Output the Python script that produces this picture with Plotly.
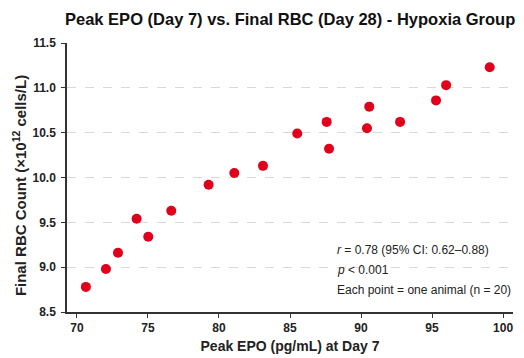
import plotly.graph_objects as go

peak_epo = [70.63, 72.04, 72.89, 74.20, 75.02, 76.64, 79.27, 81.08, 83.10, 85.51,
            87.58, 87.75, 90.42, 90.58, 92.75, 95.28, 95.99, 99.06]
final_rbc = [8.78, 8.98, 9.16, 9.54, 9.34, 9.63, 9.92, 10.05, 10.13, 10.49,
             10.62, 10.32, 10.55, 10.79, 10.62, 10.86, 11.03, 11.23]

x_ticks = [70, 75, 80, 85, 90, 95, 100]
y_ticks = [8.5, 9.0, 9.5, 10.0, 10.5, 11.0, 11.5]
y_tick_labels = ["8.5", "9.0", "9.5", "10.0", "10.5", "11.0", "11.5"]

stats_lines = [
    "<i>r</i> = 0.78 (95% CI: 0.62–0.88)",
    "<i>p</i> < 0.001",
    "Each point = one animal (n = 20)",
]

FONT = "Liberation Sans, Arial, sans-serif"
# page body has an 8px default margin; size the figure to fit the window
W, H = 516, 350

fig = go.Figure()
fig.add_trace(go.Scatter(
    x=peak_epo, y=final_rbc, mode="markers",
    marker=dict(size=10, color="#e0001b", line=dict(width=0)),
    showlegend=False, hoverinfo="x+y",
))

fig.update_layout(
    width=W, height=H,
    margin=dict(l=59, r=11, t=35, b=46, autoexpand=False),
    paper_bgcolor="white", plot_bgcolor="white",
    font=dict(family=FONT, color="#222"),
    title=dict(text="<b>Peak EPO (Day 7) vs. Final RBC (Day 28) - Hypoxia Group</b>",
               xref="container", x=57/W, xanchor="left", y=1 - 11/H, yanchor="middle",
               font=dict(size=16.5, color="#111", family=FONT)),
)

fig.update_xaxes(
    range=[69.3, 100.7], tickvals=x_ticks,
    ticktext=[f"<b>{v}</b>" for v in x_ticks],
    tickfont=dict(size=12, color="#222"),
    showgrid=False, zeroline=False, automargin=False,
    showline=True, linecolor="#333", linewidth=1.5,
    ticks="outside", ticklen=4, tickcolor="#333", tickwidth=1.2,
    title=dict(text="<b>Peak EPO (pg/mL) at Day 7</b>", font=dict(size=14, color="#222"), standoff=7),
)
fig.update_yaxes(
    range=[8.5, 11.5], tickvals=y_ticks,
    ticktext=[f"<b>{t}</b>" for t in y_tick_labels],
    tickfont=dict(size=12, color="#222"),
    showgrid=True, gridcolor="#d9d9d9", griddash="dash", gridwidth=1,
    zeroline=False, automargin=False,
    showline=True, linecolor="#333", linewidth=1.5,
    ticks="outside", ticklen=4, tickcolor="#333", tickwidth=1.2,
    ticklabelstandoff=3,
)

# y-axis title as a rotated annotation (positioned as in the reference)
fig.add_annotation(
    text="<b>Final RBC Count (×10<sup>12</sup> cells/L)</b>",
    xref="paper", yref="paper", x=-0.1076, y=0.468,
    xanchor="center", yanchor="middle", textangle=-90, showarrow=False,
    font=dict(size=15, color="#222", family=FONT),
)

ys = [0.2305, 0.156, 0.0818]
for txt, yy in zip(stats_lines, ys):
    fig.add_annotation(
        text=txt, xref="paper", yref="paper", x=0.601, y=yy,
        xanchor="left", yanchor="middle", showarrow=False, align="left",
        font=dict(size=12, color="#222", family=FONT),
    )

fig.write_html("out.html")
